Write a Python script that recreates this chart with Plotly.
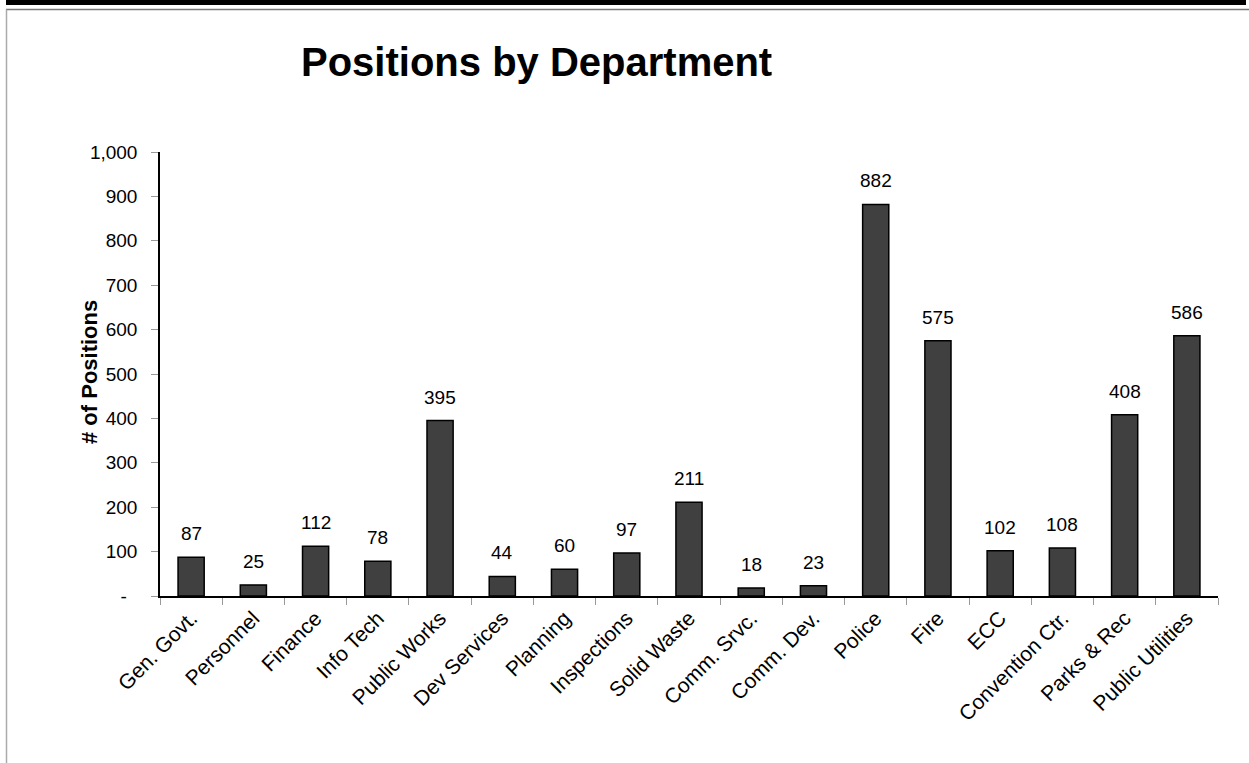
import plotly.graph_objects as go

departments = ["Gen. Govt.", "Personnel", "Finance", "Info Tech", "Public Works", "Dev Services",
               "Planning", "Inspections", "Solid Waste", "Comm. Srvc.", "Comm. Dev.", "Police",
               "Fire", "ECC", "Convention Ctr.", "Parks & Rec", "Public Utilities"]
positions = [87, 25, 112, 78, 395, 44, 60, 97, 211, 18, 23, 882, 575, 102, 108, 408, 586]
ytick_vals = [0, 100, 200, 300, 400, 500, 600, 700, 800, 900, 1000]
ytick_text = ["-\u00a0\u00a0", "100", "200", "300", "400", "500", "600", "700", "800", "900", "1,000"]

W, H = 1249, 763
L, R, T, B = 160, 31, 152, 167
pw, ph = W - L - R, H - T - B

def px(x):
    return (x - L) / pw

def py(y):
    return (H - B - y) / ph

FONT = "Liberation Sans, Arial"

fig = go.Figure()
fig.add_trace(go.Bar(
    x=departments, y=positions,
    marker=dict(color="#404040", line=dict(color="#000000", width=1.5)),
    hoverinfo="x+y",
))

for d, v in zip(departments, positions):
    fig.add_annotation(x=d, y=v, text=str(v), showarrow=False, yanchor="bottom", yshift=11,
                       font=dict(family=FONT, size=19, color="#000"))

fig.add_annotation(xref="paper", yref="paper", x=px(536), y=py(62), text="<b>Positions by Department</b>",
                   showarrow=False, xanchor="center", yanchor="middle",
                   font=dict(family=FONT, size=40, color="#000"))

fig.add_annotation(xref="paper", yref="paper", x=px(89), y=py(372), text="<b># of Positions</b>",
                   showarrow=False, xanchor="center", yanchor="middle", textangle=-90,
                   font=dict(family=FONT, size=22, color="#000"))

# page borders
fig.add_shape(type="line", xref="paper", yref="paper", x0=px(6), x1=px(1246), y0=py(2.5), y1=py(2.5),
              line=dict(color="#000", width=5))
fig.add_shape(type="line", xref="paper", yref="paper", x0=px(6), x1=px(1249), y0=py(9.5), y1=py(9.5),
              line=dict(color="#777", width=1.5))
fig.add_shape(type="line", xref="paper", yref="paper", x0=px(6.5), x1=px(6.5), y0=py(9.5), y1=py(763),
              line=dict(color="#aaa", width=1.5))

fig.update_layout(
    width=W, height=H,
    margin=dict(l=L, r=R, t=T, b=B),
    plot_bgcolor="white", paper_bgcolor="white",
    bargap=0.58,
    showlegend=False,
    font=dict(family=FONT, size=18, color="#000"),
    xaxis=dict(
        tickangle=-45, showgrid=False, showline=True, linecolor="#000", linewidth=1.5,
        ticks="outside", ticklen=7, tickcolor="#999", tickson="boundaries",
        tickfont=dict(size=21), automargin=False,
    ),
    yaxis=dict(
        range=[0, 1000], tickvals=ytick_vals, ticktext=ytick_text, showgrid=False,
        showline=True, linecolor="#000", linewidth=1.5, ticks="outside", ticklen=7, tickcolor="#999",
        tickfont=dict(size=19), zeroline=False, automargin=False, ticklabelstandoff=10,
    ),
)

fig.write_html("out.html")
